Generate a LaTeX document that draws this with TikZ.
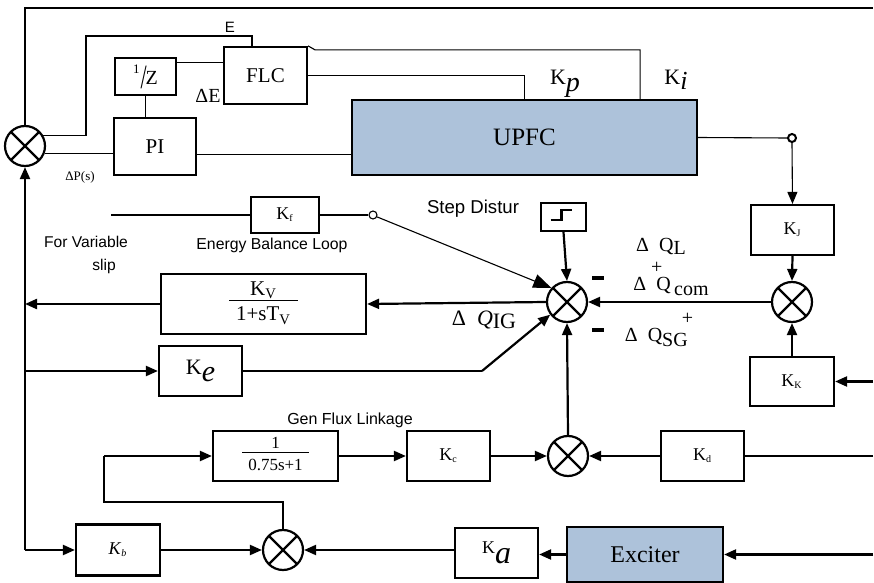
\documentclass[tikz,border=0pt]{standalone}
\usepackage{fontspec}
\setmainfont{Liberation Serif}
\setsansfont{Liberation Sans}
\usepackage{tikz}
\usetikzlibrary{arrows.meta,calc}
\definecolor{UpfcBlue}{RGB}{173,194,218}

\newcommand{\fsz}[1]{\fontsize{#1}{#1}\selectfont}

\begin{document}
\begin{tikzpicture}[x=0.5pt,y=-0.5pt,
    blk/.style={rectangle, draw, line width=1.1pt, inner sep=0pt, font=\fsz{9}},
    fblk/.style={blk, fill=UpfcBlue},
    sumj/.style={circle, draw, line width=1.1pt, minimum size=20pt, inner sep=0pt,
        path picture={\draw[line width=1.1pt]
            (path picture bounding box.south west) -- (path picture bounding box.north east)
            (path picture bounding box.north west) -- (path picture bounding box.south east);}},
    tap/.style={circle, draw, line width=1pt, minimum size=4pt, inner sep=0pt},
    minus/.style={rectangle, fill=black, minimum width=6pt, minimum height=2.2pt, inner sep=0pt},
    arr/.style={-{Triangle[length=6pt,width=5pt]}, line width=1.1pt},
    wire/.style={line width=0.55pt},
    lbl/.style={font=\sffamily\fsz{7.8}},
]
\path[use as bounding box] (0,0) rectangle (874,583);

% top control part
\node[sumj] (s0) at (25,146) {};
\node[blk, minimum width=30.5pt, minimum height=18.5pt, font=\fsz{10}] (inv) at (145.5,76.5)
    {\raisebox{0.55em}{\fsz{6.5}1}\kern0.05em\raisebox{-0.2em}{\scalebox{1.1}[1.7]{/}}\kern-0.05em Z};
\node[blk, minimum width=41.5pt, minimum height=28.5pt, font=\fsz{10.5}] (flc) at (265.5,75.5) {FLC};
\node[blk, minimum width=41pt, minimum height=28.5pt, font=\fsz{10.5}] (pi) at (155,146.5) {PI};
\node[fblk, minimum width=172.5pt, minimum height=37.5pt, font=\fsz{12.5}] (upfc) at (524.5,137.5) {UPFC};
\node[tap] (tp) at (792,138) {};

% right branch
\node[blk, minimum width=41.5pt, minimum height=25pt] (kj) at (792.5,230) {K\textsubscript{\fsz{5}J}};
\node[sumj] (s2) at (792,302) {};
\node[blk, minimum width=42pt, minimum height=24.5pt] (kk) at (792,381.5) {K\textsubscript{\fsz{5}K}};

% middle summing point
\node[sumj] (s1) at (567,302) {};
\node[blk, minimum width=22.5pt, minimum height=14pt] (stp) at (563.5,217) {};
\node[minus] (mA) at (598,278) {};
\node[minus] (mB) at (598,330) {};
\node[blk, minimum width=102.5pt, minimum height=30pt, font=\fsz{10.5}] (kv) at (263.5,304)
    {\begin{tabular}{@{\hspace{3.5pt}}c@{\hspace{3.5pt}}}K\textsubscript{V}\\[-1pt]\hline\rule{0pt}{10pt}1+sT\textsubscript{V}\end{tabular}};
\node[blk, minimum width=41.5pt, minimum height=25pt, font=\fsz{11}] (ke) at (200.5,371)
    {K\raisebox{-0.35em}{\fsz{15}\itshape e}};
\node[blk, line width=0.55pt, minimum width=34pt, minimum height=18pt] (kf) at (285,215) {K\textsubscript{\fsz{5}f}};
\node[tap, line width=0.55pt] (kfo) at (373,215) {};
\coordinate (kfin) at (111,215);

% lower part
\node[blk, minimum width=62.5pt, minimum height=25pt, font=\fsz{8.5}] (filt) at (275.5,456)
    {\begin{tabular}{@{\hspace{3pt}}c@{\hspace{3pt}}}1\\[-1pt]\hline\rule{0pt}{9pt}0.75s+1\end{tabular}};
\node[blk, minimum width=41.5pt, minimum height=25pt] (kc) at (448.5,456) {K\textsubscript{\fsz{5}c}};
\node[sumj] (s3) at (568,456) {};
\node[blk, minimum width=41.5pt, minimum height=25pt] (kd) at (702.5,456) {K\textsubscript{\fsz{5}d}};
\node[sumj] (s4) at (283,550) {};
\node[blk, minimum width=42pt, minimum height=25.5pt] (kb) at (118,550) {\textit{K}\textsubscript{\fsz{5}\itshape b}};
\node[blk, minimum width=41.5pt, minimum height=25pt] (ka) at (496.5,553)
    {K\raisebox{-0.55em}{\fsz{16}\itshape a}};
\node[fblk, minimum width=78pt, minimum height=27.5pt, font=\fsz{12}] (exc) at (645,554.5) {Exciter};

% free ends at the right border
\coordinate (topend) at (873,8);
\coordinate (kkin) at (873,381.5);
\coordinate (kdin) at (873,456);
\coordinate (excin) at (873,554.5);
\coordinate (ebend) at (86,36);
\coordinate (kebend) at (482,371);
\coordinate (fb1) at (104,502);

% connectors, top
\draw[wire] (s0.north) |- (topend);
\draw[line width=0.9pt] (s0.30) -| (ebend) -| ([xshift=-6.75pt]flc.north);
\draw[wire] ([yshift=-3pt]inv.north east) -- ([yshift=-3pt]inv.north east -| flc.west);
\draw[wire] (inv.south) -- (pi.north -| inv.south);
\draw[wire] (s0.-20) -- (s0.-20 -| pi.west);
\draw[wire] ([yshift=-4pt]pi.east) -- ([yshift=-4pt]pi.east -| upfc.west);
\draw[wire] (flc.north east) -- ++(7,4) -| ([xshift=-29pt]upfc.north east);
\draw[wire] (flc.east) -| (upfc.north);
\draw[wire] (upfc.east) -- (tp.west);
\draw[arr, line width=0.55pt] (tp.south) -- (kj.north);

% connectors, right and middle
\draw[arr] (kj.south) -- (s2.north);
\draw[arr] (kk.north) -- (s2.south);
\draw[arr] (kkin) -- (kk.east);
\draw[arr] (s2.west) -- (s1.east);
\draw[arr] (stp.south) -- (s1.north);
\draw[line width=1.3pt] ($(stp.center)+(-13,3)$) -- ++(11,0) -- ++(0,-10) -- ++(10,0);
\draw[arr] (s1.west) -- (kv.east);
\draw[arr] (kv.west) -- (kv.west -| s0.south);
\draw[arr] (ke.west -| s0.south) -- (ke.west);
\draw[wire] (ke.east) -- (kebend);
\draw[arr] (kebend) -- (s1.217);
\draw[wire] (kfin) -- (kf.west);
\draw[wire] (kf.east) -- (kfo.west);
\draw[wire, -{Triangle[length=9pt,width=7pt]}] (kfo.-25) -- (s1.138);

% connectors, lower
\draw[arr] (s3.north) -- (s1.south);
\draw[arr] (kc.east) -- (s3.west);
\draw[arr] (kd.west) -- (s3.east);
\draw[line width=1pt] (kdin) -- (kd.east);
\draw[arr] (filt.east) -- (kc.west);
\draw[wire] (s4.north) |- (fb1) -- (fb1 |- filt.west);
\draw[arr] (fb1 |- filt.west) -- (filt.west);
\draw[arr] (kb.west -| s0.south) -- (s0.south);
\draw[arr] (kb.west -| s0.south) -- (kb.west);
\draw[arr] (kb.east) -- (s4.west);
\draw[arr] (ka.west |- s4.east) -- (s4.east);
\draw[arr] (exc.west) -- (exc.west -| ka.east);
\draw[arr] (excin) -- (exc.east);

% labels
\node[lbl, font=\sffamily\fsz{7.5}] (elab) at (230,27) {E};
\node[font=\fsz{10}] (delab) at (208,96) {ΔE};
\node[font=\fsz{6.5}] (dplab) at (80,177) {ΔP(s)};
\node[font=\fsz{11}] (kplab) at (565,84) {K\raisebox{-0.3em}{\fsz{14}\itshape p}};
\node[font=\fsz{11}] (kilab) at (676,80) {K\raisebox{-0.25em}{\fsz{13}\itshape i}};
\node[lbl, font=\sffamily\fsz{9.3}] (steplab) at (473,209) {Step Distur};
\node[lbl] (var1) at (86,242) {For Variable};
\node[lbl] (var2) at (104,266) {slip};
\node[lbl, font=\sffamily\fsz{7.9}] (eblab) at (272,245) {Energy Balance Loop};
\node[lbl, font=\sffamily\fsz{8}] (gflab) at (350,420) {Gen Flux Linkage};
\node[font=\fsz{10}] (dql) at (661,247) {Δ\ \ Q\raisebox{-0.3ex}{L}};
\node[font=\fsz{10}] (dqc) at (671,279) {Δ\ \raisebox{0.85em}{+}\kern-0.3em Q\,\raisebox{-0.45ex}{com}};
\node[font=\fsz{10}] (dqs) at (659,330) {Δ\ \ Q\raisebox{-0.45ex}{SG}\kern-0.3em\raisebox{0.85em}{+}};
\node[font=\fsz{11}] (dqig) at (484,320) {Δ\ \ \textit{Q}\raisebox{-0.35ex}{IG}};
\end{tikzpicture}
\end{document}
